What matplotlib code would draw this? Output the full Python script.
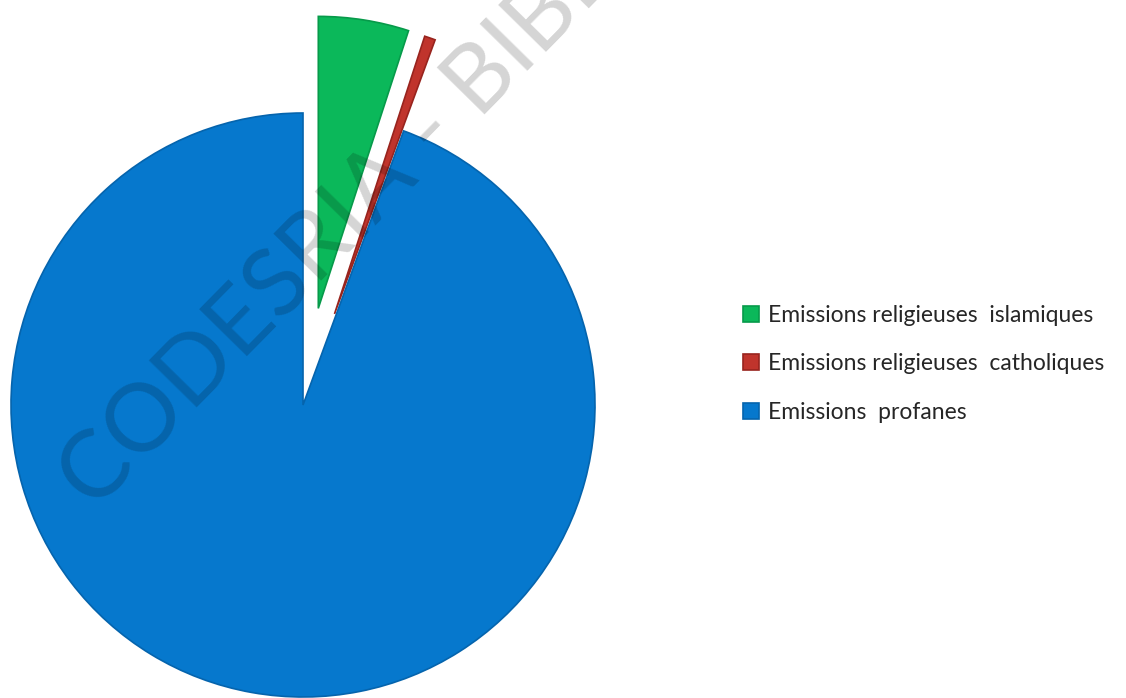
# pie chart: share of religious vs secular broadcasts
import matplotlib.pyplot as plt

labels = ["Emissions religieuses  islamiques",
          "Emissions religieuses  catholiques",
          "Emissions  profanes"]
shares = [5.0, 0.6, 94.4]  # percent

COLOURS = ["#0bb85a", "#c0342c", "#0678cd"]
EDGES = ["#079a4a", "#98241e", "#0564ad"]
RADIUS = 292
# explode is in data units here because the axes are in pixels
EXPLODE = [0.335 * RADIUS, 0.33 * RADIUS, 0.0]

plt.rcParams["font.family"] = ["Lato", "DejaVu Sans"]

fig = plt.figure(figsize=(11.26, 6.98), dpi=100)
ax = fig.add_axes([0, 0, 1, 1])

wedges, _ = ax.pie(
    shares,
    colors=COLOURS,
    explode=EXPLODE,
    startangle=90,
    counterclock=False,
    center=(303, 698 - 405),
    radius=RADIUS,
)
for w, c in zip(wedges, EDGES):
    w.set_edgecolor(c)
    w.set_linewidth(1.2)

ax.set_xlim(0, 1126)
ax.set_ylim(0, 698)
ax.set_aspect("equal")
ax.axis("off")

# watermark across the pie
ax.text(94, 698 - 512, "CODESRIA - BIBLIOTHEQUE", rotation=45.5,
        rotation_mode="anchor", ha="left", va="baseline",
        fontsize=68, color="black", alpha=0.17, zorder=5, clip_on=True)

leg = fig.legend(
    wedges, labels,
    loc="upper left", bbox_to_anchor=(722 / 1126, 1 - 284 / 698),
    frameon=False, fontsize=16.5, handlelength=0.7, handleheight=0.7,
    handletextpad=0.4, labelspacing=1.2, labelcolor="#262626",
)

fig.savefig("out.png", dpi=100)
